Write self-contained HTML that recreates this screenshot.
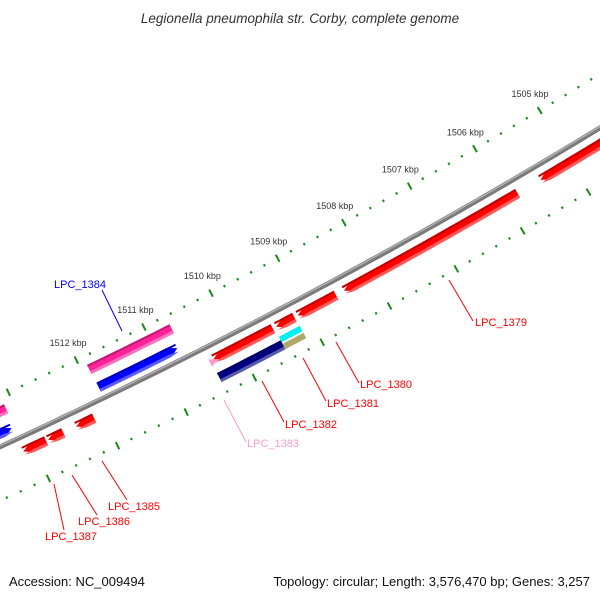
<!DOCTYPE html>
<html><head><meta charset="utf-8"><style>
html,body{margin:0;padding:0;background:#fff;}
svg{display:block;font-family:"Liberation Sans",sans-serif;}
</style></head><body>
<svg id="map" width="600" height="600" viewBox="0 0 600 600">
<text x="300" y="23" text-anchor="middle" font-size="13.5" font-style="italic" fill="#333">Legionella pneumophila str. Corby, complete genome</text>
<g id="ticks"></g>
<g id="backbone"></g>
<g id="features"></g>
<g font-size="11">
<line x1="102" y1="290" x2="122" y2="331" stroke="#0000ff"/>
<text x="54" y="288" fill="#0000ff">LPC_1384</text>
<line x1="449" y1="280" x2="473" y2="321" stroke="#ff0000"/>
<text x="475" y="326" fill="#ff0000">LPC_1379</text>
<line x1="336" y1="342" x2="359" y2="383" stroke="#ff0000"/>
<text x="360" y="388" fill="#ff0000">LPC_1380</text>
<line x1="303" y1="358" x2="326" y2="401" stroke="#ff0000"/>
<text x="327" y="407" fill="#ff0000">LPC_1381</text>
<line x1="262" y1="381" x2="284" y2="422" stroke="#ff0000"/>
<text x="285" y="428" fill="#ff0000">LPC_1382</text>
<line x1="224" y1="400" x2="246" y2="442" stroke="#ff99cc"/>
<text x="247" y="447" fill="#ff99cc">LPC_1383</text>
<line x1="102" y1="461" x2="127" y2="500" stroke="#ff0000"/>
<text x="108" y="510" fill="#ff0000">LPC_1385</text>
<line x1="72" y1="475" x2="97" y2="515" stroke="#ff0000"/>
<text x="78" y="525" fill="#ff0000">LPC_1386</text>
<line x1="54" y1="484" x2="64" y2="530" stroke="#ff0000"/>
<text x="45" y="540" fill="#ff0000">LPC_1387</text>
</g>
<text x="9" y="586" font-size="13" fill="#111">Accession: NC_009494</text>
<text x="590" y="586" font-size="13" fill="#111" text-anchor="end">Topology: circular; Length: 3,576,470 bp; Genes: 3,257</text>
</svg>
<script>
// data
var tickStartKbp = 1503.0;
var tickEndKbp = 1515.0;
var tickStepKbp = 0.2;
var labelKbp = [1505, 1506, 1507, 1508, 1509, 1510, 1511, 1512];
var featNames = ["gene-offscreen-right","lpc-1379","lpc-1380","lpc-1381","lpc-1382-red","lpc-1385","lpc-1386","lpc-1387","lpc-1384-blue","gene-offscreen-blue","gene-pink","gene-offscreen-pink","lpc-1382-navy","gene-cyan","gene-khaki","lpc-1383"];
var featStart = [1504.3,1505.81,1508.55,1509.17,1509.49,1512.12,1512.57,1512.82,1510.73,1513.16,1510.68,1513.12,1509.47,1509.16,1509.16,1510.31];
var featEnd   = [1505.46,1508.43,1509.12,1509.44,1510.37,1512.38,1512.79,1513.15,1511.89,1514.6,1511.90,1514.6,1510.41,1509.47,1509.47,1510.43];
var featRing  = [5876,5876,5876,5876,5876,5876,5876,5876,5850,5850,5830,5830,5895,5889,5897,5878];
var featWidth = [10,10,10,10,10,10,10,10,10,10,10,10,10,6,6,8];
var featColor = ["#ff0000","#ff0000","#ff0000","#ff0000","#ff0000","#ff0000","#ff0000","#ff0000","#0000ff","#0000ff","#ff2299","#ff2299","#000080","#00f0f0","#b0a868","#ff99cc"];
var featArrow = ["hi","hi","hi","hi","hi","hi","hi","hi","lo","lo","none","none","none","none","none","tri"];

var CX = -2447, CY = -4880, R_BACK = 5862, R_TICK = 5816, R_TICK2 = 5911, R_LABEL = 5797;
var NS = "http://www.w3.org/2000/svg";
function ang(k){ return (59.10 + (k - 1505) * 0.741) * Math.PI / 180; }
function pt(k, r){ var a = ang(k); return [CX + r * Math.cos(a), CY + r * Math.sin(a)]; }
function mk(tag, attrs, parent){ var e = document.createElementNS(NS, tag); for (var k in attrs) e.setAttribute(k, attrs[k]); parent.appendChild(e); return e; }
function shade(hex, f){
  var n = parseInt(hex.slice(1), 16), r = n >> 16, g = (n >> 8) & 255, b = n & 255;
  function c(v){ return Math.round(f < 0 ? v * (1 + f) : v + (255 - v) * f); }
  return "rgb(" + c(r) + "," + c(g) + "," + c(b) + ")";
}
function bandPts(a, b, r1, r2, arrow){
  var lo = Math.min(a, b), hi = Math.max(a, b), ah = 0.12, rm = (r1 + r2) / 2, P = [];
  var s = lo, e = hi;
  if (arrow === "lo") s = Math.min(lo + ah, hi);
  if (arrow === "hi") e = Math.max(hi - ah, lo);
  var n = 12, i;
  for (i = 0; i <= n; i++) P.push(pt(s + (e - s) * i / n, r1));
  if (arrow === "hi") P.push(pt(hi, rm));
  for (i = n; i >= 0; i--) P.push(pt(s + (e - s) * i / n, r2));
  if (arrow === "lo") P.push(pt(lo, rm));
  return P.map(function(p){ return p[0].toFixed(1) + "," + p[1].toFixed(1); }).join(" ");
}

var ticksG = document.getElementById("ticks");
var nT = Math.round((tickEndKbp - tickStartKbp) / tickStepKbp);
for (var i = 0; i <= nT; i++) {
  var k = tickStartKbp + i * tickStepKbp;
  var major = Math.abs(k - Math.round(k)) < 1e-6;
  [R_TICK, R_TICK2].forEach(function(r){
    var d = major ? 4 : 1.2;
    var p1 = pt(k, r - d), p2 = pt(k, r + d);
    var t = mk("line", {x1: p1[0], y1: p1[1], x2: p2[0], y2: p2[1], stroke: "#1a8a1a", "stroke-width": 2}, ticksG);
    
    
  });
}
labelKbp.forEach(function(k){
  var p = pt(k, R_LABEL);
  var t = mk("text", {x: p[0], y: p[1] + 3, "text-anchor": "middle", "font-size": "9", fill: "#333"}, ticksG);
  t.textContent = k + " kbp";
  
  
});

var bb = document.getElementById("backbone");
var bpts = [];
for (var j = 0; j <= 80; j++) { var p = pt(1503 + j * 12 / 80, R_BACK); bpts.push(p[0].toFixed(1) + "," + p[1].toFixed(1)); }
var l1 = mk("polyline", {points: bpts.join(" "), fill: "none", stroke: "#7a7a7a", "stroke-width": 5}, bb);


var bpts2 = [];
for (var j2 = 0; j2 <= 80; j2++) { var q = pt(1503 + j2 * 12 / 80, R_BACK - 1.2); bpts2.push(q[0].toFixed(1) + "," + q[1].toFixed(1)); }
var l2 = mk("polyline", {points: bpts2.join(" "), fill: "none", stroke: "#b0b0b0", "stroke-width": 1.5}, bb);



var fg = document.getElementById("features");
for (var f = 0; f < featNames.length; f++) {
  var r1 = featRing[f] - featWidth[f] / 2, r2 = featRing[f] + featWidth[f] / 2;
  var g = mk("g", {}, fg);
  
  
  if (featArrow[f] === "tri") {
    var ta = pt(featEnd[f], r1), tb = pt(featEnd[f], r2), tc = pt(featStart[f], (r1 + r2) / 2);
    var tri = mk("polygon", {points: ta.join(",") + " " + tb.join(",") + " " + tc.join(","), fill: featColor[f]}, g);
    
    
    continue;
  }
  var body = mk("polygon", {points: bandPts(featStart[f], featEnd[f], r1, r2, featArrow[f]), fill: featColor[f]}, g);
  
  
  if (featWidth[f] >= 10) {
    var topShade = mk("polygon", {points: bandPts(featStart[f], featEnd[f], r1, r1 + 2, "none"), fill: shade(featColor[f], -0.25)}, g);
    
    
    var botShade = mk("polygon", {points: bandPts(featStart[f], featEnd[f], r2 - 3, r2, featArrow[f]), fill: shade(featColor[f], 0.35)}, g);
    
    
  }
}
</script>
</body></html>
